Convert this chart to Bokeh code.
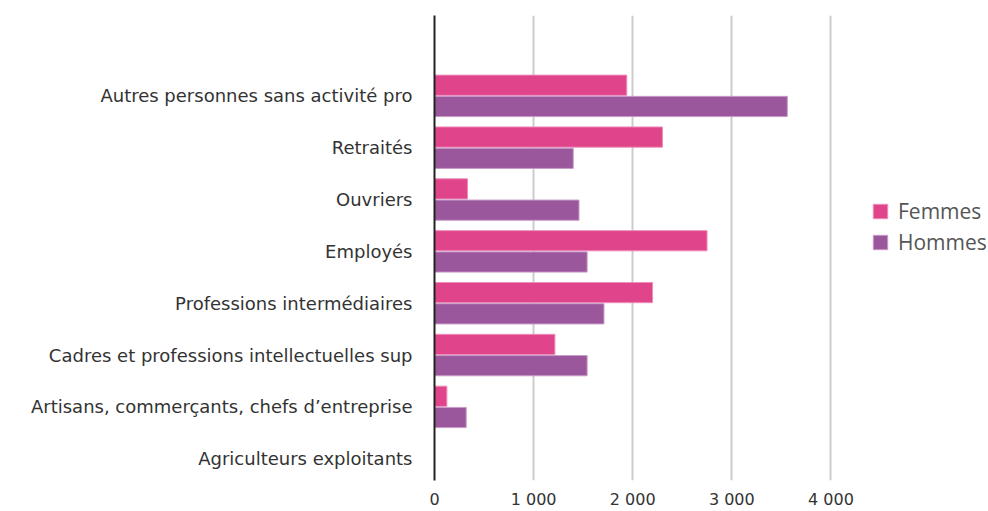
from bokeh.plotting import figure
from bokeh.models import ColumnDataSource, FixedTicker, Legend, LegendItem, Range1d
from bokeh.embed import file_html
from bokeh.resources import INLINE

categories = ["Agriculteurs exploitants",
              "Artisans, commerçants, chefs d\u2019entreprise",
              "Cadres et professions intellectuelles sup",
              "Professions intermédiaires",
              "Employés",
              "Ouvriers",
              "Retraités",
              "Autres personnes sans activité pro"]
femmes = [0, 125, 1215, 2200, 2750, 333, 2300, 1940]
hommes = [0, 320, 1540, 1710, 1540, 1458, 1400, 3560]
x_ticks = [0, 1000, 2000, 3000, 4000]
x_tick_labels = ["0", "1 000", "2 000", "3 000", "4 000"]

FONT = "DejaVu Sans"
pos = list(range(len(categories)))
src = ColumnDataSource(dict(
    pos=pos,
    yf=[p_ + 0.205 for p_ in pos],
    yh=[p_ - 0.205 for p_ in pos],
    femmes=femmes, hommes=hommes))

p = figure(width=988, height=511, output_backend="svg", toolbar_location=None,
           x_range=Range1d(0, 5590), y_range=Range1d(-0.42, 8.55),
           min_border_left=434, min_border_right=0, min_border_top=15, min_border_bottom=10)
p.outline_line_color = None

rf = p.hbar(y="yf", left=0, right="femmes", height=0.39, source=src,
            fill_color="#E0448A", line_color="#EE8DBA", line_width=1)
rh = p.hbar(y="yh", left=0, right="hommes", height=0.39, source=src,
            fill_color="#9A579C", line_color="#C79BC8", line_width=1)

p.xaxis.ticker = FixedTicker(ticks=x_ticks)
p.xaxis.major_label_overrides = {t: l for t, l in zip(x_ticks, x_tick_labels)}
p.xaxis.axis_line_color = None
p.xaxis.major_tick_line_color = None
p.xaxis.minor_tick_line_color = None
p.xaxis.major_tick_out = 0
p.xaxis.major_tick_in = 0
p.xaxis.major_label_standoff = 9
p.xaxis.major_label_text_font = FONT
p.xaxis.major_label_text_font_size = "16px"
p.xaxis.major_label_text_color = "#333333"

p.yaxis.ticker = FixedTicker(ticks=pos)
p.yaxis.major_label_overrides = {i: c for i, c in zip(pos, categories)}
p.yaxis.axis_line_color = "#222222"
p.yaxis.axis_line_width = 2
p.yaxis.major_tick_line_color = None
p.yaxis.minor_tick_line_color = None
p.yaxis.major_tick_out = 0
p.yaxis.major_tick_in = 0
p.yaxis.major_label_standoff = 22
p.yaxis.major_label_text_font = FONT
p.yaxis.major_label_text_font_size = "18px"
p.yaxis.major_label_text_color = "#333333"

p.ygrid.grid_line_color = None
p.xgrid.grid_line_color = "#CCCCCC"
p.xgrid.grid_line_width = 2
p.xgrid.ticker = FixedTicker(ticks=x_ticks[1:])

legend = Legend(items=[LegendItem(label="Femmes", renderers=[rf]),
                       LegendItem(label="Hommes", renderers=[rh])],
                location=(437, 224), orientation="vertical")
legend.border_line_color = None
legend.background_fill_alpha = 0
legend.padding = 0
legend.margin = 0
legend.spacing = 3
legend.glyph_width = 18
legend.glyph_height = 18
legend.label_standoff = 9
legend.label_text_font = "Open Sans"
legend.label_text_font_size = "21px"
legend.label_text_color = "#555555"
legend.label_height = 21
p.add_layout(legend)

open("out.html", "w").write(file_html(p, INLINE))
